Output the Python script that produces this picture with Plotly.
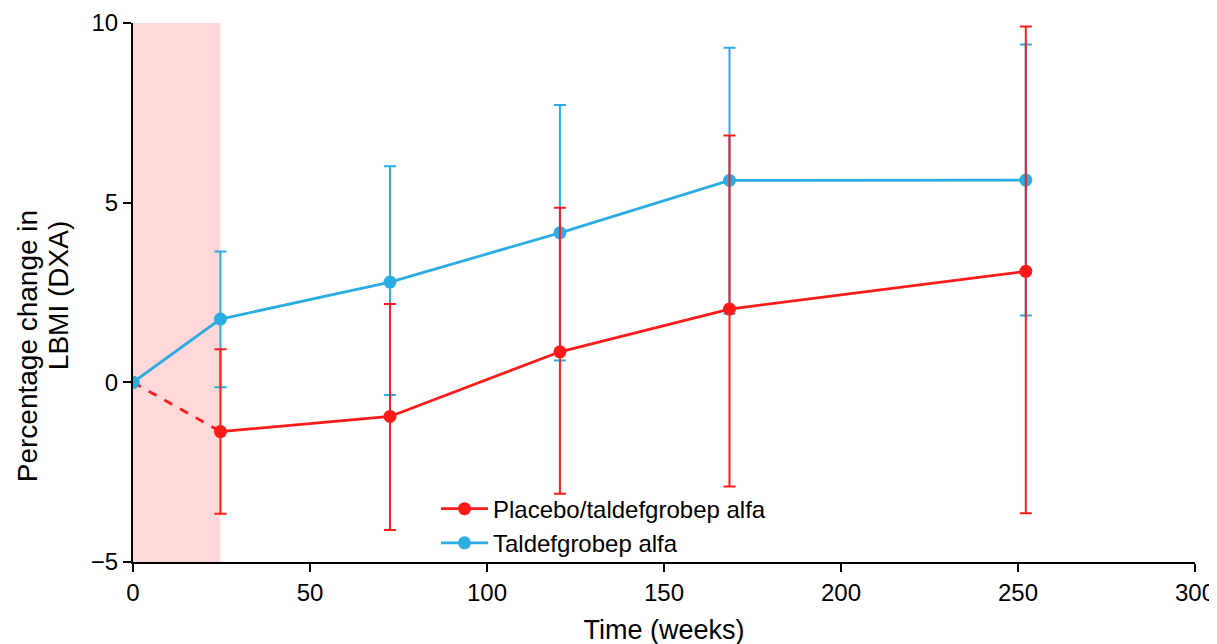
import plotly.graph_objects as go

# ---- data ----
weeks = [24.7, 72.6, 120.6, 168.5, 252.2]

placebo_mean = [-1.37, -0.95, 0.85, 2.04, 3.09]
placebo_upper = [0.92, 2.18, 4.86, 6.87, 9.90]
placebo_lower = [-3.66, -4.11, -3.10, -2.90, -3.64]

tald_weeks = [0, 24.7, 72.6, 120.6, 168.5, 252.2]
tald_mean = [0.0, 1.76, 2.79, 4.16, 5.62, 5.63]
tald_upper = [0.0, 3.64, 6.01, 7.72, 9.31, 9.40]
tald_lower = [0.0, -0.14, -0.35, 0.61, 1.91, 1.86]

baseline_week = [0]
baseline_value = [0.0]
placebo_period_end = 24.7

x_ticks = [0, 50, 100, 150, 200, 250, 300]
y_ticks = [-5, 0, 5, 10]
y_title_lines = ["Percentage change in", "LBMI (DXA)"]

RED = "#FF1A1A"
BLUE = "#2BACE2"
FONT = "Liberation Sans, Arial, sans-serif"

fig = go.Figure()

# placebo period shading
fig.add_shape(type="rect", xref="x", yref="y", x0=0, x1=placebo_period_end,
              y0=-5, y1=10, fillcolor="#FFD9D9", line_width=0, layer="below")

# Taldefgrobep alfa
fig.add_trace(go.Scatter(
    x=tald_weeks, y=tald_mean, mode="lines+markers", name="Taldefgrobep alfa",
    legendrank=2,
    line=dict(color=BLUE, width=2.8), marker=dict(color=BLUE, size=13),
    error_y=dict(type="data", symmetric=False,
                 array=[u - m for u, m in zip(tald_upper, tald_mean)],
                 arrayminus=[m - l for l, m in zip(tald_lower, tald_mean)],
                 color=BLUE, thickness=2, width=6),
))

# placebo dashed segment from baseline
fig.add_trace(go.Scatter(
    x=baseline_week + weeks[:1], y=baseline_value + placebo_mean[:1], mode="lines",
    line=dict(color=RED, width=2.8, dash="dash"), showlegend=False, hoverinfo="skip",
))

# Placebo/taldefgrobep alfa
fig.add_trace(go.Scatter(
    x=weeks, y=placebo_mean, mode="lines+markers", name="Placebo/taldefgrobep alfa",
    legendrank=1,
    line=dict(color=RED, width=2.8), marker=dict(color=RED, size=13),
    error_y=dict(type="data", symmetric=False,
                 array=[u - m for u, m in zip(placebo_upper, placebo_mean)],
                 arrayminus=[m - l for l, m in zip(placebo_lower, placebo_mean)],
                 color=RED, thickness=2, width=6),
))

# baseline marker drawn on top
fig.add_trace(go.Scatter(
    x=baseline_week, y=baseline_value, mode="markers",
    marker=dict(color=BLUE, size=13), showlegend=False, hoverinfo="skip",
))

axis_common = dict(showline=True, linecolor="black", linewidth=2, ticks="outside",
                   ticklen=8, tickwidth=2, tickcolor="black", showgrid=False,
                   zeroline=False, automargin=False,
                   tickfont=dict(family=FONT, size=24, color="black"))

fig.update_xaxes(range=[0, 300], tickvals=x_ticks, title_text="Time (weeks)",
                 title_standoff=15,
                 title_font=dict(family=FONT, size=27, color="black"), **axis_common)
fig.update_yaxes(range=[-5, 10], tickvals=y_ticks, **axis_common)

# y-axis title as two rotated lines
fig.add_annotation(text=y_title_lines[0], xref="paper", yref="paper",
                   x=-0.099, y=0.40, xanchor="center", yanchor="middle",
                   textangle=-90, showarrow=False,
                   font=dict(family=FONT, size=28, color="black"))
fig.add_annotation(text=y_title_lines[1], xref="paper", yref="paper",
                   x=-0.0705, y=0.4935, xanchor="center", yanchor="middle",
                   textangle=-90, showarrow=False,
                   font=dict(family=FONT, size=28, color="black"))

fig.update_layout(
    width=1209, height=644,
    margin=dict(l=125, r=22, t=15, b=90),
    plot_bgcolor="white", paper_bgcolor="white",
    font=dict(family=FONT, size=24, color="black"),
    showlegend=True,
    legend=dict(x=0.2853, y=0.14, xanchor="left", yanchor="top",
                bgcolor="rgba(0,0,0,0)", font=dict(family=FONT, size=24, color="black"),
                tracegroupgap=0, itemwidth=47),
)

fig.write_html("out.html")
